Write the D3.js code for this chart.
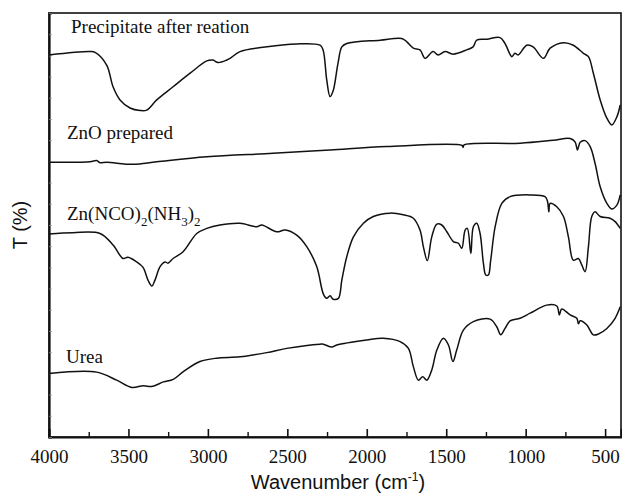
<!DOCTYPE html>
<html>
<head>
<meta charset="utf-8">
<script src="https://cdn.jsdelivr.net/npm/d3@7"></script>
<style>
  body { margin: 0; background: #fff; }
  svg { display: block; }
</style>
</head>
<body>
<svg id="chart" width="622" height="493"></svg>
<script>
// FTIR spectra, [wavenumber cm-1, T (arbitrary %, stacked)]
const precipitate = [
  [4000, 90.1], [3742, 90.9], [3710, 90.7], [3637, 87.7], [3597, 82.6], [3553, 79.5],
  [3490, 77.6], [3427, 77.0], [3385, 77.1], [3322, 79.5], [3219, 82.6], [3112, 85.8],
  [3007, 88.7], [2968, 88.9], [2936, 88.3], [2881, 88.9], [2861, 89.3], [2798, 90.9],
  [2653, 91.9], [2441, 92.7], [2294, 92.4], [2275, 91.3], [2252, 84.2], [2231, 80.3],
  [2212, 81.6], [2181, 88.2], [2157, 92.0], [2126, 92.8], [1916, 93.6], [1780, 94.0],
  [1748, 93.2], [1707, 91.7], [1665, 91.3], [1633, 89.3], [1583, 90.9], [1551, 90.1],
  [1507, 90.9], [1457, 90.3], [1371, 91.3], [1331, 92.0], [1308, 93.6], [1245, 93.8],
  [1161, 94.2], [1130, 92.8], [1087, 89.7], [1067, 90.5], [1048, 90.1], [993, 92.4],
  [953, 92.0], [888, 89.3], [846, 91.7], [762, 93.0], [700, 92.4], [637, 90.5],
  [605, 89.7], [574, 85.8], [531, 79.5], [489, 75.2], [458, 73.6], [426, 75.5], [405, 78.3]
];
const znoPrepared = [
  [4000, 64.8], [3742, 64.9], [3700, 65.2], [3679, 64.7], [3637, 64.8], [3471, 64.3],
  [3322, 64.9], [3007, 66.1], [2590, 66.9], [2231, 67.7], [1874, 68.5], [1400, 68.75],
  [1394, 68.3], [1388, 68.9], [1035, 69.3], [827, 70.0], [720, 70.4], [689, 69.6],
  [674, 67.7], [657, 69.5], [626, 69.9], [594, 68.5], [563, 64.5], [531, 59.0],
  [489, 55.1], [458, 53.8], [426, 54.7], [405, 57.1]
];
const znComplex = [
  [4000, 47.9], [3849, 48.2], [3679, 48.0], [3597, 45.3], [3534, 42.1], [3503, 42.4],
  [3448, 41.3], [3408, 40.0], [3377, 37.0], [3353, 35.6], [3333, 37.0], [3301, 40.2],
  [3270, 41.3], [3251, 41.0], [3219, 42.1], [3156, 43.7], [3070, 48.0], [3007, 49.2],
  [2924, 50.0], [2798, 50.4], [2693, 49.6], [2661, 50.0], [2567, 48.4], [2514, 48.8],
  [2441, 47.6], [2378, 44.9], [2315, 40.2], [2273, 33.7], [2252, 32.7], [2231, 33.3],
  [2212, 32.5], [2179, 32.7], [2157, 37.0], [2126, 42.5], [2084, 47.2], [2021, 50.4],
  [1959, 52.0], [1853, 52.8], [1770, 52.4], [1707, 51.6], [1665, 48.8], [1644, 44.9],
  [1619, 41.6], [1591, 47.2], [1559, 50.2], [1528, 50.0], [1496, 48.4], [1455, 46.1],
  [1423, 45.7], [1402, 44.5], [1381, 48.8], [1367, 49.2], [1345, 43.3], [1329, 49.6],
  [1308, 50.4], [1287, 48.0], [1266, 41.0], [1251, 38.2], [1235, 38.2], [1220, 41.7],
  [1192, 49.6], [1150, 55.1], [1098, 56.7], [972, 57.1], [878, 56.7], [862, 55.5],
  [854, 53.1], [846, 55.1], [804, 54.3], [762, 52.0], [731, 47.2], [700, 41.7],
  [668, 42.1], [647, 40.6], [626, 39.0], [605, 44.9], [584, 52.0], [563, 53.1],
  [531, 52.0], [469, 51.6], [437, 50.8], [405, 49.2]
];
const urea = [
  [4000, 15.0], [3700, 15.3], [3574, 13.4], [3479, 11.7], [3406, 12.1], [3353, 11.9],
  [3280, 13.0], [3218, 13.6], [3155, 15.4], [3050, 17.8], [2944, 18.6], [2798, 18.9],
  [2630, 19.9], [2504, 20.9], [2294, 21.9], [2273, 21.9], [2220, 21.2], [2189, 21.7],
  [2000, 22.9], [1896, 23.3], [1790, 22.5], [1738, 20.9], [1707, 16.6], [1675, 13.4],
  [1648, 14.2], [1622, 13.4], [1591, 15.8], [1559, 20.5], [1518, 23.3], [1486, 21.7],
  [1458, 17.8], [1434, 20.5], [1392, 25.2], [1329, 27.2], [1224, 27.8], [1182, 26.0],
  [1157, 24.1], [1130, 25.6], [1098, 27.4], [1035, 28.0], [972, 29.2], [867, 31.1],
  [804, 30.9], [788, 28.8], [773, 30.2], [720, 28.8], [678, 28.0], [668, 26.7],
  [657, 27.4], [615, 26.4], [574, 24.1], [542, 24.3], [489, 25.6], [437, 28.0], [405, 30.7]
];

const series = [precipitate, znoPrepared, znComplex, urea];
const xTicks = [4000, 3500, 3000, 2500, 2000, 1500, 1000, 500];
const xMinorTicks = [3750, 3250, 2750, 2250, 1750, 1250, 750];

const margin = { top: 13, right: 1, bottom: 56, left: 49 };
const width = 622, height = 493;
const svg = d3.select("#chart");

const x = d3.scaleLinear().domain([4000, 400]).range([margin.left, width - margin.right]);
const y = d3.scaleLinear().domain([0, 100]).range([height - margin.bottom, margin.top]);

const serif = "'Liberation Serif', 'Times New Roman', serif";
const sans = "'Liberation Sans', Arial, sans-serif";

// frame
svg.append("rect")
  .attr("x", x(4000)).attr("y", y(100))
  .attr("width", x(400) - x(4000)).attr("height", y(0) - y(100))
  .attr("fill", "none").attr("stroke", "#111").attr("stroke-width", 1.6);

// bottom axis: inward ticks
const xAxis = svg.append("g")
  .attr("transform", `translate(0,${y(0)})`)
  .call(d3.axisBottom(x).tickValues(xTicks).tickSize(-8).tickPadding(13).tickFormat(d3.format("d")));
xAxis.attr("font-family", null).attr("font-size", null);
xAxis.select(".domain").attr("stroke", "#111").attr("stroke-width", 2);
xAxis.selectAll(".tick line").attr("stroke", "#111").attr("stroke-width", 1.6);
xAxis.selectAll(".tick text")
  .style("font-family", serif)
  .style("font-size", "19px")
  .attr("fill", "#111");

svg.append("g")
  .attr("transform", `translate(0,${y(0)})`)
  .call(d3.axisBottom(x).tickValues(xMinorTicks).tickSize(-5).tickFormat(""))
  .call(g => g.select(".domain").remove())
  .selectAll(".tick line").attr("stroke", "#111").attr("stroke-width", 1.4);

// left axis: faint minor ticks only
const yAxis = svg.append("g")
  .attr("transform", `translate(${x(4000)},0)`)
  .call(d3.axisLeft(y).ticks(20).tickSize(-3).tickFormat(""));
yAxis.select(".domain").attr("stroke", "#111").attr("stroke-width", 2.2);
yAxis.selectAll(".tick line").attr("stroke", "#999").attr("stroke-width", 0.7);

// spectra
const line = d3.line()
  .x(d => x(d[0]))
  .y(d => y(d[1]))
  .curve(d3.curveCatmullRom.alpha(0.5));

svg.append("g")
  .selectAll("path")
  .data(series)
  .join("path")
  .attr("d", line)
  .attr("fill", "none")
  .attr("stroke", "#111")
  .attr("stroke-width", 1.5)
  .attr("stroke-linejoin", "round");

// curve labels
const labels = svg.append("g")
  .attr("font-family", serif)
  .attr("font-size", 19)
  .attr("fill", "#111");

labels.append("text").attr("x", 71).attr("y", 33).text("Precipitate after reation");
labels.append("text").attr("x", 67).attr("y", 139).text("ZnO prepared");
const zn = labels.append("text").attr("x", 67).attr("y", 220);
zn.append("tspan").text("Zn(NCO)");
zn.append("tspan").attr("font-size", 13).attr("dy", 6).text("2");
zn.append("tspan").attr("dy", -6).text("(NH");
zn.append("tspan").attr("font-size", 13).attr("dy", 6).text("3");
zn.append("tspan").attr("dy", -6).text(")");
zn.append("tspan").attr("font-size", 13).attr("dy", 6).text("2");
labels.append("text").attr("x", 66).attr("y", 363).text("Urea");

// axis titles
const xt = svg.append("text")
  .attr("x", (x(4000) + x(400)) / 2 + 3)
  .attr("y", 489)
  .attr("text-anchor", "middle")
  .attr("font-family", sans)
  .attr("font-size", 20)
  .attr("fill", "#111");
xt.append("tspan").text("Wavenumber (cm");
xt.append("tspan").attr("font-size", 12).attr("dy", -8).text("-1");
xt.append("tspan").attr("dy", 8).text(")");

svg.append("text")
  .attr("transform", `translate(27,${(y(0) + y(100)) / 2}) rotate(-90)`)
  .attr("text-anchor", "middle")
  .attr("font-family", sans)
  .attr("font-size", 20)
  .attr("fill", "#111")
  .text("T (%)");
</script>
</body>
</html>
